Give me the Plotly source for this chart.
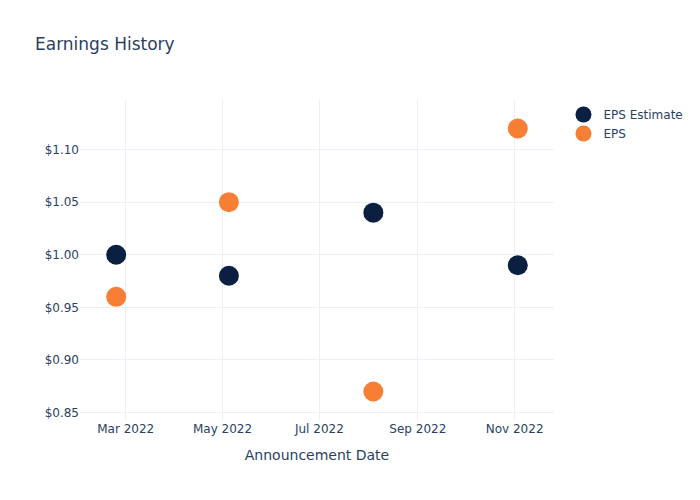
import plotly.graph_objects as go

dates = ["2022-02-23", "2022-05-05", "2022-08-04", "2022-11-03"]
eps_estimate = [1.00, 0.98, 1.04, 0.99]
eps_actual = [0.96, 1.05, 0.87, 1.12]

fig = go.Figure()
fig.add_trace(go.Scatter(x=dates, y=eps_estimate, mode="markers", name="EPS Estimate",
                         marker=dict(color="#0b1f41", size=20)))
fig.add_trace(go.Scatter(x=dates, y=eps_actual, mode="markers", name="EPS",
                         marker=dict(color="#f77f35", size=20)))
fig.update_layout(
    template="plotly_white",
    width=700, height=500,
    font=dict(family="DejaVu Sans"),
    title=dict(text="Earnings History"),
    xaxis=dict(title=dict(text="Announcement Date")),
    yaxis=dict(tickprefix="$", tickformat=".2f"),
)
fig.write_html("out.html")
